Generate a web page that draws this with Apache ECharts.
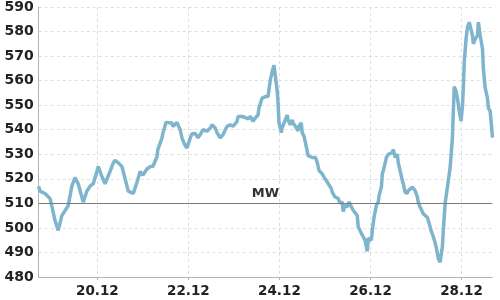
<!DOCTYPE html>
<html><head><meta charset="utf-8">
<script src="https://cdn.jsdelivr.net/npm/echarts@6/dist/echarts.min.js"></script>
<style>html,body{margin:0;padding:0;background:#fff}#c{width:500px;height:300px}</style>
</head><body><div id="c"></div>
<script>
// x = day of December (fractional), y = value
const days = [18.71,18.74,18.85,18.96,19.00,19.07,19.14,19.18,19.22,19.29,19.36,19.44,19.51,19.58,19.69,19.77,19.84,19.91,19.99,20.02,20.10,20.17,20.28,20.35,20.39,20.46,20.54,20.61,20.68,20.79,20.87,20.94,21.00,21.09,21.16,21.22,21.31,21.33,21.42,21.44,21.51,21.55,21.64,21.66,21.75,21.77,21.82,21.86,21.93,21.97,22.04,22.08,22.15,22.21,22.26,22.32,22.41,22.48,22.52,22.59,22.63,22.70,22.76,22.85,22.92,22.98,23.07,23.09,23.18,23.25,23.31,23.36,23.42,23.47,23.53,23.55,23.62,23.69,23.75,23.80,23.84,23.88,23.93,23.95,23.97,23.99,24.04,24.06,24.13,24.17,24.19,24.24,24.28,24.30,24.37,24.41,24.43,24.48,24.50,24.54,24.61,24.63,24.72,24.79,24.83,24.87,24.94,24.98,25.05,25.09,25.14,25.16,25.22,25.29,25.33,25.38,25.40,25.44,25.49,25.53,25.58,25.62,25.66,25.71,25.73,25.80,25.84,25.88,25.93,25.95,26.02,26.04,26.08,26.13,26.17,26.19,26.24,26.26,26.30,26.35,26.39,26.43,26.48,26.50,26.54,26.59,26.61,26.65,26.70,26.72,26.76,26.81,26.83,26.87,26.92,26.94,26.98,27.03,27.05,27.09,27.16,27.25,27.29,27.33,27.38,27.42,27.47,27.49,27.53,27.58,27.60,27.64,27.69,27.71,27.75,27.80,27.82,27.84,27.88,27.91,27.95,27.99,28.02,28.04,28.06,28.10,28.13,28.17,28.21,28.24,28.26,28.30,28.35,28.37,28.39,28.41,28.46,28.48,28.52,28.57,28.59,28.63,28.68];
const values = [517,515,514,512,509,503,499,499.5,505,507,509,517,520.5,518,510.5,515,517,518,523,525,521,518,523,526.5,527.5,526.5,525,520,515,514,518.5,523,521.5,524,525,525,529,532,536.6,538.6,543,543.8,542.7,541.3,543,542.7,540,536.6,533.5,532.6,536.6,538.4,538.5,536.7,538,540,539.4,540.7,542,540.7,538.7,536.7,538,541.4,542,541.4,543.4,545.4,545.4,545,544.4,545.4,543.4,544.8,546,548.8,552.9,553.5,553.5,560.3,563.6,566.3,559,556,551,543,538.8,540.8,544,546,544,542,544,542.8,540.8,539.5,541.5,542.8,538.8,537.4,531.4,529.4,528.7,528.7,526.7,523.4,522,520.7,518.7,518,516,514.6,512.6,512,510,510.6,506.6,509.3,508.6,510.6,508.6,507.2,507,505,500.5,497.8,496.4,495,490.4,495.8,495,499,504.5,509.2,510.5,513.2,516.6,522,524.6,528.7,530,529.3,530.7,532,528.7,530,526.6,523.3,519.3,518,514.6,514,515.2,516,516.6,516,515.2,512.6,510.5,508.5,505.8,504.2,501.8,499,496.4,494,489.8,487.5,486,492.5,499.2,510,516.6,516.6,524.7,536.8,547.5,557.6,555.6,552.9,547.5,543.5,549.5,556.9,567.7,577,581.7,583.8,584.4,578.4,575,577,578.4,583.8,584.4,578.4,573,565,557,552.9,548.9,547.5,536.8];
const xTickDays = [20,22,24,26,28];
const xTickSuffix = '.12';
const mwValue = 510;
const mwLabel = 'MW';

const data = days.map((d,i)=>[d, values[i]]);
const chart = echarts.init(document.getElementById('c'), null, {renderer:'canvas'});
chart.setOption({
  animation:false,
  grid:{left:38.7, right:7.7, top:5, bottom:23, containLabel:false},
  xAxis:{
    type:'value', min:18.712, max:28.676,
    axisLine:{lineStyle:{color:'#b4b4b4', width:1}},
    axisTick:{show:true, length:3, lineStyle:{color:'#b4b4b4'}, customValues:xTickDays},
    axisLabel:{customValues:xTickDays, formatter:v=>v+xTickSuffix, color:'#222', fontFamily:'DejaVu Sans', fontWeight:'bold', fontSize:13.5, margin:7},
    splitLine:{show:true, lineStyle:{color:'#dedede', type:[3,3]}}
  },
  yAxis:{
    type:'value', min:480, max:590, interval:10,
    axisLine:{show:true, lineStyle:{color:'#b4b4b4', width:1}},
    axisTick:{show:false},
    axisLabel:{color:'#222', fontFamily:'DejaVu Sans', fontWeight:'bold', fontSize:14, margin:5},
    splitLine:{show:true, lineStyle:{color:'#dedede', type:[3,3]}}
  },
  series:[{
    type:'line', data:data, showSymbol:false, symbol:'none',
    lineStyle:{color:'#7fb4cd', width:3.5},
    markLine:{
      silent:true, symbol:'none',
      lineStyle:{color:'#7a7a7a', width:1, type:'solid'},
      label:{formatter:mwLabel, position:'insideMiddleTop', color:'#333', fontFamily:'DejaVu Sans', fontWeight:'bold', fontSize:13, distance:3},
      data:[{yAxis:mwValue}]
    }
  }]
});
</script></body></html>
